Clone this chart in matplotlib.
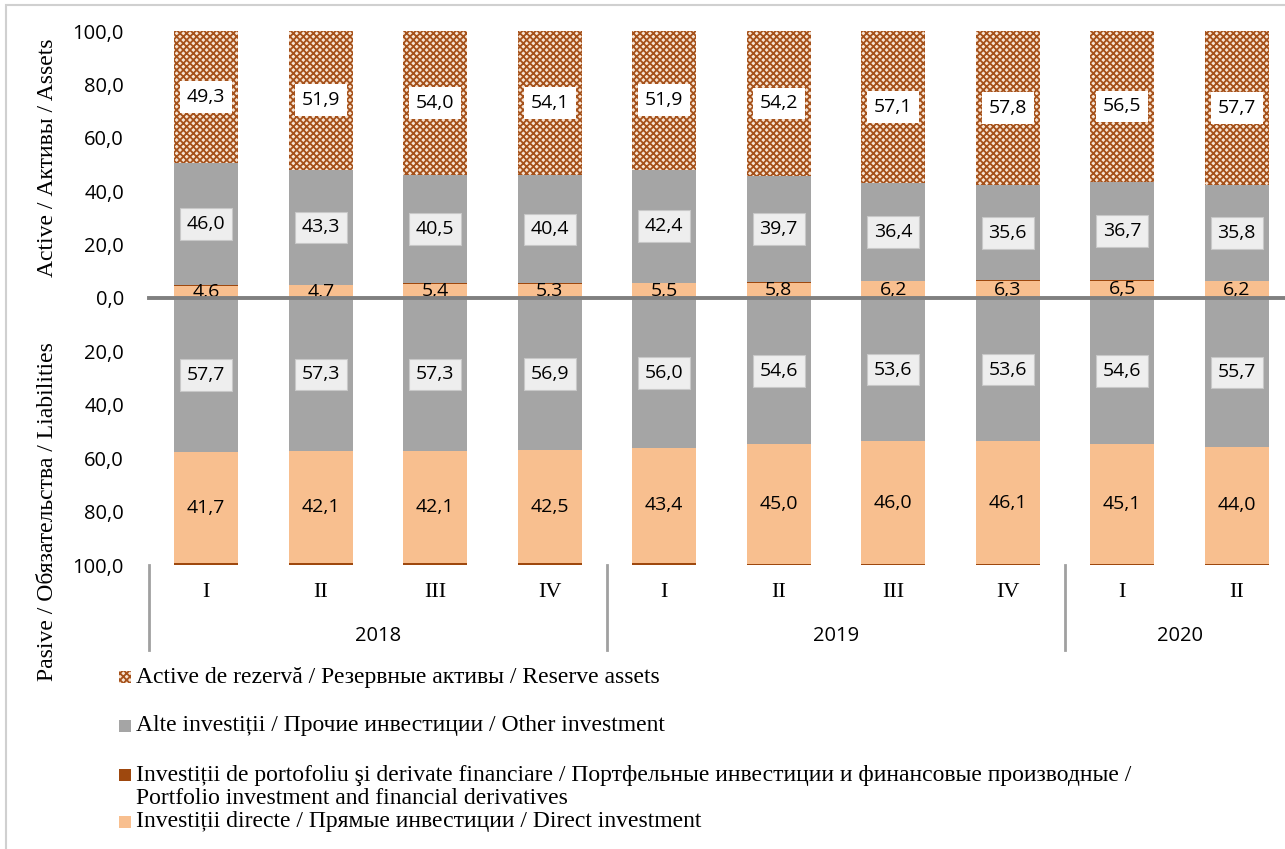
import numpy as np
import matplotlib
matplotlib.use("Agg")
import matplotlib.pyplot as plt
from matplotlib.patches import Rectangle
import matplotlib.transforms as mtransforms

# Data (%, shares of total assets / liabilities)
quarters = ['I', 'II', 'III', 'IV', 'I', 'II', 'III', 'IV', 'I', 'II']
years = ['2018', '2019', '2020']
year_len = [4, 4, 2]

# assets (above zero)
a_direct = [4.6, 4.7, 5.4, 5.3, 5.5, 5.8, 6.2, 6.3, 6.5, 6.2]
a_portf = [0.1, 0.1, 0.1, 0.2, 0.2, 0.3, 0.3, 0.3, 0.3, 0.3]
a_other = [46.0, 43.3, 40.5, 40.4, 42.4, 39.7, 36.4, 35.6, 36.7, 35.8]
a_reserve = [49.3, 51.9, 54.0, 54.1, 51.9, 54.2, 57.1, 57.8, 56.5, 57.7]

# liabilities (below zero)
l_other = [57.7, 57.3, 57.3, 56.9, 56.0, 54.6, 53.6, 53.6, 54.6, 55.7]
l_direct = [41.7, 42.1, 42.1, 42.5, 43.4, 45.0, 46.0, 46.1, 45.1, 44.0]
l_portf = [0.6, 0.6, 0.6, 0.6, 0.6, 0.4, 0.4, 0.3, 0.3, 0.3]

lbl_reserve = 'Active de rezervă / Резервные активы / Reserve assets'
lbl_other = 'Alte investiții / Прочие инвестиции / Other investment'
lbl_portf = ['Investiții de portofoliu şi derivate financiare / Портфельные инвестиции и финансовые производные /',
             'Portfolio investment and financial derivatives']
lbl_direct = 'Investiții directe / Прямые инвестиции / Direct investment'

c_direct = '#f8bf8f'
c_portf = '#9e480e'
c_other = '#a5a5a5'
c_reserve = '#a5511a'
c_res_bg = '#f7e4d4'

serif = ['Liberation Serif', 'DejaVu Serif']
sans = ['Open Sans', 'DejaVu Sans']
plt.rcParams['hatch.linewidth'] = 1.3

fig = plt.figure(figsize=(12.85, 8.49), dpi=100)
ax = fig.add_axes([149 / 1285, 284 / 849, 1145 / 1285, 534 / 849])

x = np.arange(len(quarters))
w = 0.56
a_direct = np.array(a_direct)
a_portf = np.array(a_portf)
a_other = np.array(a_other)
a_reserve = np.array(a_reserve)
l_other = np.array(l_other)
l_direct = np.array(l_direct)
l_portf = np.array(l_portf)

# assets
ax.bar(x, a_direct, w, color=c_direct, linewidth=0)
ax.bar(x, a_portf, w, bottom=a_direct, color=c_portf, linewidth=0)
b_oth = a_direct + a_portf
ax.bar(x, a_other, w, bottom=b_oth, color=c_other, linewidth=0)
b_res = b_oth + a_other
ax.bar(x, a_reserve, w, bottom=b_res, facecolor=c_res_bg, edgecolor=c_reserve,
       hatch='xxxxx', linewidth=0)

# liabilities
ax.bar(x, -l_other, w, color=c_other, linewidth=0)
ax.bar(x, -l_direct, w, bottom=-l_other, color=c_direct, linewidth=0)
ax.bar(x, -l_portf, w, bottom=-(l_other + l_direct), color=c_portf, linewidth=0)

# labels
fmt = lambda v: f'{v:.1f}'.replace('.', ',')
for i in x:
    ax.text(i, b_res[i] + a_reserve[i] / 2, fmt(a_reserve[i]), ha='center', va='center',
            fontsize=14, family=sans,
            bbox=dict(boxstyle='square,pad=0.35', fc='white', ec='none'))
    ax.text(i, b_oth[i] + a_other[i] / 2, fmt(a_other[i]), ha='center', va='center',
            fontsize=14, family=sans,
            bbox=dict(boxstyle='square,pad=0.35', fc='#eeeeee', ec='#c8c8c8', lw=0.8))
    ax.text(i, a_direct[i] / 2, fmt(a_direct[i]), ha='center', va='center',
            fontsize=14, family=sans)
    ax.text(i, -l_other[i] / 2, fmt(l_other[i]), ha='center', va='center',
            fontsize=14, family=sans,
            bbox=dict(boxstyle='square,pad=0.35', fc='#eeeeee', ec='#c8c8c8', lw=0.8))
    ax.text(i, -l_other[i] - l_direct[i] / 2, fmt(l_direct[i]), ha='center', va='center',
            fontsize=14, family=sans)

ax.axhline(0, color='#808080', lw=2.8, zorder=5, clip_on=False)

ax.set_xlim(-0.5, len(quarters) - 0.5)
ax.set_ylim(-100, 100)
ticks = np.arange(-100, 101, 20)
ax.set_yticks(ticks)
ax.set_yticklabels([fmt(abs(t)) for t in ticks], fontsize=14.5, family=sans)
ax.tick_params(axis='y', length=0, pad=18)
ax.set_xticks([])
for s in ax.spines.values():
    s.set_visible(False)

# category axis (quarters / years)
trans = mtransforms.blended_transform_factory(ax.transData, ax.transAxes)
for i, q in enumerate(quarters):
    ax.text(i, -0.052, q, transform=trans, ha='center', va='center', fontsize=16, family=serif)
start = 0
seps = [-0.5]
for y, n in zip(years, year_len):
    ax.text(start + (n - 1) / 2, -0.133, y, transform=trans, ha='center', va='center',
            fontsize=14.5, family=sans)
    start += n
    seps.append(start - 0.5)
for s in seps[:-1]:
    ax.plot([s, s], [0, -0.16], transform=trans, color='#a0a0a0', lw=2, clip_on=False)

# axis titles
fig.text(48 / 1285, 1 - 158 / 849, 'Active / Активы / Assets', rotation=90,
         ha='center', va='center', fontsize=17, family=serif)
fig.text(48 / 1285, 1 - 512 / 849, 'Pasive / Обязательства / Liabilities', rotation=90,
         ha='center', va='center', fontsize=17, family=serif)

# legend
leg = [([lbl_reserve], 677, 'hatch'), ([lbl_other], 726, c_other),
       (lbl_portf, 775, c_portf), ([lbl_direct], 822, c_direct)]
for lines, yy, col in leg:
    if col == 'hatch':
        r = Rectangle((119 / 1285, 1 - (yy + 6) / 849), 12 / 1285, 12 / 849,
                      transform=fig.transFigure, facecolor=c_res_bg, edgecolor=c_reserve,
                      hatch='xxxxx', linewidth=0)
    else:
        r = Rectangle((119 / 1285, 1 - (yy + 6) / 849), 12 / 1285, 12 / 849,
                      transform=fig.transFigure, facecolor=col, linewidth=0)
    fig.patches.append(r)
    for k, txt in enumerate(lines):
        fig.text(136 / 1285, 1 - (yy + 23 * k) / 849, txt, ha='left', va='center',
                 fontsize=17, family=serif)

# outer frame
fig.patches.append(Rectangle((6 / 1285, -0.01), 1.1, 1 - 5 / 849 + 0.01,
                             transform=fig.transFigure, fill=False, edgecolor='#d0d0d0', lw=1.5))

plt.savefig('out.png', dpi=100)
